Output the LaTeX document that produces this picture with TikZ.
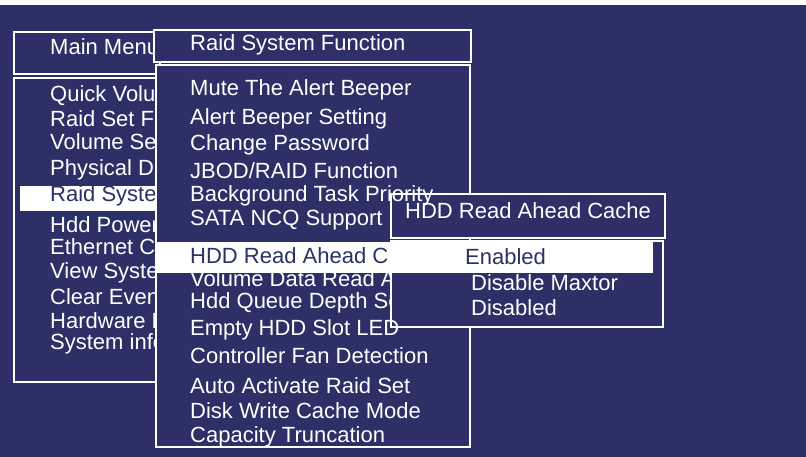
\documentclass[tikz,border=0pt]{standalone}
\usepackage{fontspec}
\setmainfont{Liberation Sans}
\definecolor{bg}{RGB}{44,48,102}
\begin{document}
\begin{tikzpicture}[x=1pt,y=-1pt,
  win/.style={draw=white,line width=2.6pt,fill=bg},
  txt/.style={anchor=west,text=white,font=\fontsize{22}{22}\selectfont,inner sep=0pt},
  sel/.style={txt,text=bg},
  bar/.style={fill=white,draw=none}]
\useasboundingbox (0,0) rectangle (806,457);
\fill[white] (0,0) rectangle (806,457);
\fill[bg] (0,5) rectangle (806,457);
% main menu
\draw[win] (14,32) rectangle (160,74);
\draw[win] (14,78) rectangle (160,382);
\fill[bar] (20,186) rectangle (160,211);
\node[txt] (mm) at (50,47) {Main Menu};
\foreach \t/\y [count=\i] in {Quick Volume/96,Raid Set Function/119,Volume Set Function/142,Physical Drives/170,Hdd Power/225,Ethernet Configuration/249,View System Events/273,Clear Event Buffer/297,Hardware Monitor/321,System information/344}
  \node[txt] (m\i) at (50,\y) {\t};
\node[sel] (mraid) at (50,196) {Raid System};
% raid system function
\draw[win] (154,30) rectangle (471,62);
\draw[win] (156,65) rectangle (470,447);
\node[txt] (rh) at (190,45) {Raid System Function};
\foreach \t/\y [count=\i] in {Mute The Alert Beeper/90,Alert Beeper Setting/119,Change Password/145,{JBOD/RAID Function}/171,SATA NCQ Support/220,Volume Data Read Ahead/279,Hdd Queue Depth Setting/303,Controller Fan Detection/356,Auto Activate Raid Set/386,Disk Write Cache Mode/411,Capacity Truncation/437}
  \node[txt] (r\i) at (190,\y) {\t};
% hdd read ahead window
\draw[win] (391,194) rectangle (665,238);
\draw[win] (391,241) rectangle (663,327);
\node[txt] (rbg) at (190,196) {Background Task Priority};
\node[txt] (remp) at (190,330) {Empty HDD Slot LED};
\fill[bar] (157,242) rectangle (653,273);
\node[sel] (rhdd) at (190,256) {HDD Read Ahead C};
\node[txt] (hh) at (405,211) {HDD Read Ahead Cache};
\node[sel] (o1) at (465,257) {Enabled};
\node[txt] (o2) at (471,283) {Disable Maxtor};
\node[txt] (o3) at (471,308) {Disabled};
\end{tikzpicture}
\end{document}
